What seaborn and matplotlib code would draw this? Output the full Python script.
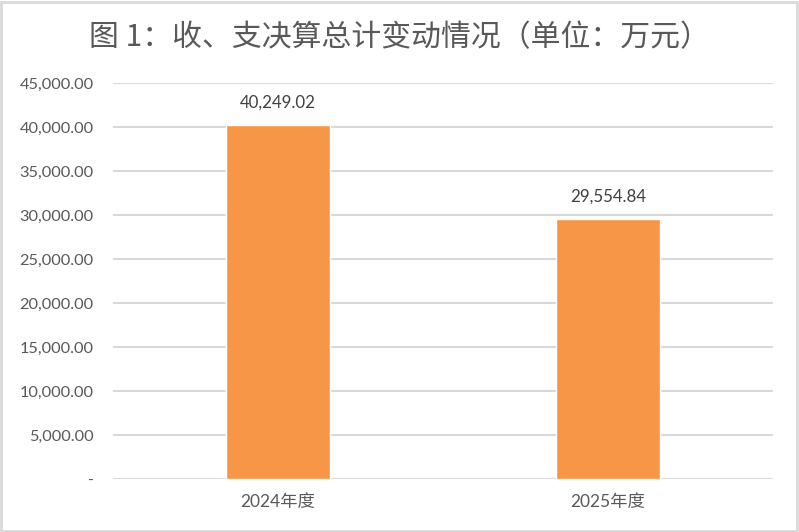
import numpy as np
import pandas as pd
import matplotlib
matplotlib.use("Agg")
import matplotlib.pyplot as plt
import seaborn as sns
from matplotlib.patches import Rectangle
from matplotlib.ticker import FuncFormatter

# Data
years = ['2024年度', '2025年度']
totals = [40249.02, 29554.84]
y_ticks = [0, 5000, 10000, 15000, 20000, 25000, 30000, 35000, 40000, 45000]

TEXT_COLOR = '#595959'
BAR_COLOR = '#F79646'
GRID_COLOR = '#D9D9D9'

sns.set_theme(style='white')
plt.rcParams['font.family'] = ['Lato', 'Noto Sans CJK SC', 'DejaVu Sans']

df = pd.DataFrame({'year': years, 'total': totals})

fig = plt.figure(figsize=(7.99, 5.32), dpi=100)
ax = fig.add_axes([0.1414, 0.0996, 0.826, 0.7444])

sns.barplot(data=df, x='year', y='total', color=BAR_COLOR, width=0.315,
            saturation=1, ax=ax, zorder=3)

ax.set_ylim(0, 45000)
ax.set_xlim(-0.5, 1.5)
ax.set_yticks(y_ticks)
ax.yaxis.set_major_formatter(FuncFormatter(lambda v, p: '-' if v == 0 else f'{v:,.2f}'))
ax.yaxis.grid(True, color=GRID_COLOR, linewidth=1.5, zorder=0)
ax.set_axisbelow(True)
ax.set_xlabel('')
ax.set_ylabel('')
for s in ax.spines.values():
    s.set_visible(False)
ax.tick_params(axis='both', length=0, colors=TEXT_COLOR)
ax.tick_params(axis='y', pad=14, labelsize=11.8)
ax.tick_params(axis='x', pad=11, labelsize=12.5)

# value labels
for i, v in enumerate(totals):
    ax.text(i, v + 1600, f'{v:,.2f}', ha='center', va='bottom',
            fontsize=12.2, color='#404040')

fig.text(0.5, 0.93, '图 1：收、支决算总计变动情况（单位：万元）', ha='center', va='center',
         fontsize=21.5, color=TEXT_COLOR, family=['Noto Sans CJK SC', 'DejaVu Sans'])

# figure border
fig.patches.append(Rectangle((0.001, 0.002), 0.997, 0.995, transform=fig.transFigure,
                             fill=False, edgecolor='#D9D9D9', linewidth=2))

fig.savefig('out.png', dpi=100)
